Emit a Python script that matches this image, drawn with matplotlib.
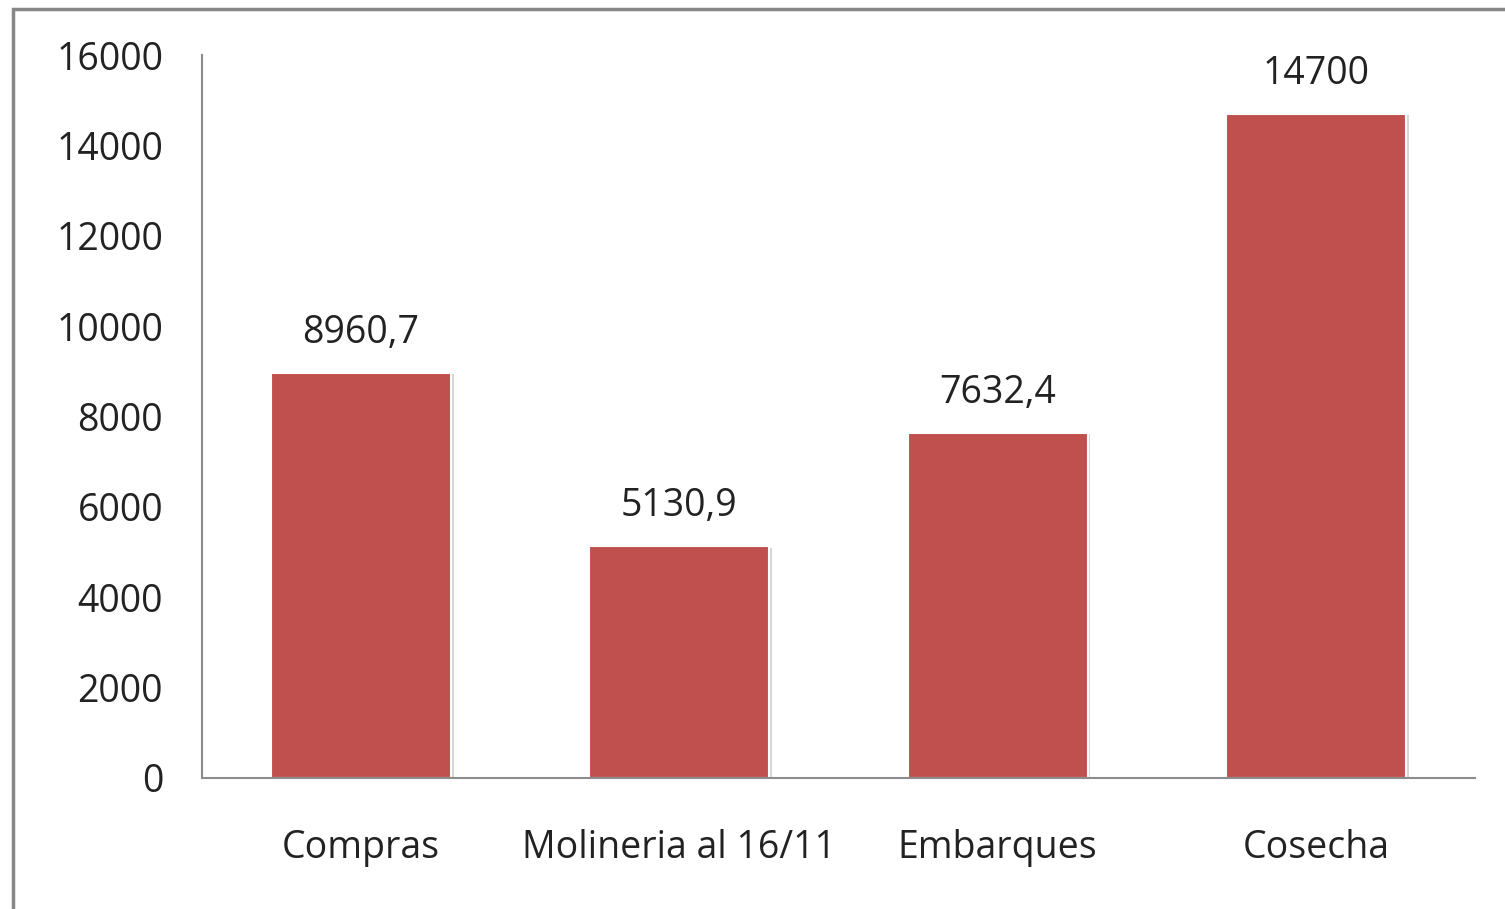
import matplotlib
matplotlib.use("Agg")
import matplotlib.pyplot as plt
from matplotlib.patches import Rectangle
import matplotlib.patheffects as pe

categories = ["Compras", "Molineria al 16/11", "Embarques", "Cosecha"]
values = [8960.7, 5130.9, 7632.4, 14700]
value_labels = ["8960,7", "5130,9", "7632,4", "14700"]
yticks = [0, 2000, 4000, 6000, 8000, 10000, 12000, 14000, 16000]

plt.rcParams['font.family'] = ['Open Sans', 'DejaVu Sans']

fig = plt.figure(figsize=(15.05, 9.09), dpi=100)
ax = fig.add_axes([202/1505, 1-778/909, (1475-202)/1505, (778-55)/909])

x = list(range(len(categories)))
bars = ax.bar(x, values, width=0.565, color="#C0504D", edgecolor="white", linewidth=1.5,
              path_effects=[pe.SimplePatchShadow(offset=(2, -1), shadow_rgbFace="#888888", alpha=0.35), pe.Normal()])

for xi, v, lab in zip(x, values, value_labels):
    ax.annotate(lab, (xi, v), xytext=(0, 15), textcoords="offset points",
                ha="center", va="bottom", fontsize=27, color="#222222")

ax.set_xlim(-0.5, len(categories) - 0.5)
ax.set_ylim(0, 16000)
ax.set_yticks(yticks)
ax.set_yticklabels([str(t) for t in yticks], fontsize=27, color="#222222")
ax.set_xticks(x)
ax.set_xticklabels(categories, fontsize=27, color="#222222")
ax.tick_params(axis="y", length=0, pad=28)
ax.tick_params(axis="x", length=0, pad=37)

for s in ["top", "right"]:
    ax.spines[s].set_visible(False)
for s in ["left", "bottom"]:
    ax.spines[s].set_color("#8c8c8c")
    ax.spines[s].set_linewidth(1.5)

fig.patches.append(Rectangle((13/1505, -0.2), 1.2, 1.2 - 9/909 , transform=fig.transFigure,
                             fill=False, edgecolor="#878787", linewidth=2.5))

fig.savefig("out.png", dpi=100)
